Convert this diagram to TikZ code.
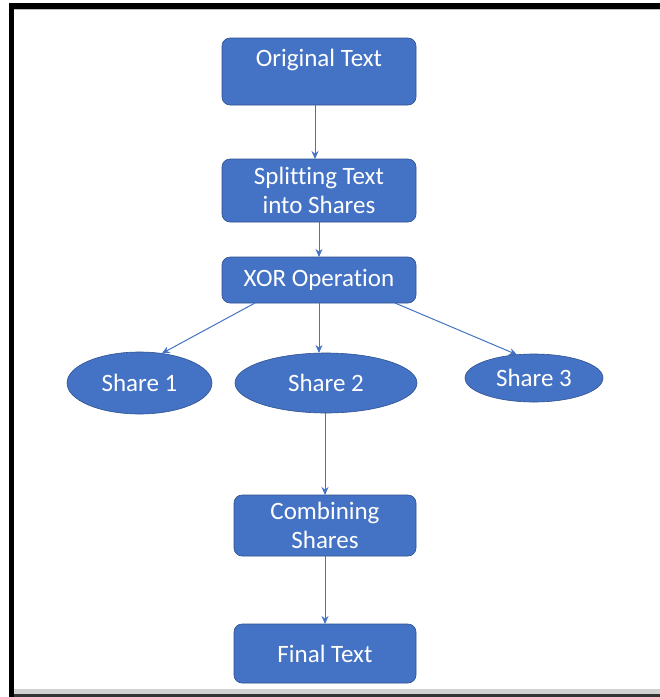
\documentclass[tikz,border=0pt]{standalone}
\usepackage{fontspec}
\setmainfont[Ligatures=CommonOff]{Carlito}
\usetikzlibrary{positioning,shapes.geometric,arrows.meta}
\definecolor{boxblue}{HTML}{4472C4}
\definecolor{boxedge}{HTML}{2F528F}

\begin{document}
\begin{tikzpicture}[x=1pt, y=-1pt,
						step box/.style={rectangle, rounded corners=8pt, fill=boxblue, draw=boxedge, line width=0.6pt, text=white, inner sep=0pt, outer sep=0pt, align=center, font=\fontsize{25}{28.5}\selectfont},
						share/.style={ellipse, fill=boxblue, draw=boxedge, line width=0.6pt, text=white, inner sep=0pt, outer sep=0pt, font=\fontsize{25}{28.5}\selectfont}
					]
					% frame of the screenshot
					\useasboundingbox (0,0) rectangle (660,697);
					\fill[black] (9,3) rectangle (660,697);
					\fill[white] (14,9) rectangle (660,689);
					\fill[black!25] (14,9) rectangle (660,10.2);
					\fill[black!18] (14,689) rectangle (660,694);
					\fill[black!80] (14,694) rectangle (660,697);
					\node[step box, minimum width=194pt, text height=28pt, text depth=39pt] (orig) at (319,71.5) {Original Text};
					\node[step box, minimum width=194pt, minimum height=63pt] (split) [below=54pt of orig] {Splitting Text\\into Shares};
					\node[step box, minimum width=194pt, minimum height=46pt] (xor) [below=35pt of split] {XOR Operation};
					\node[share, minimum width=182pt, minimum height=60pt] (share2) [below=50pt of xor, xshift=7pt] {Share 2};
					\node[share, minimum width=145pt, minimum height=62pt] (share1) [left=23pt of share2] {Share 1};
					\node[share, minimum width=138pt, minimum height=48pt] (share3) [right=48pt of share2, yshift=5pt] {Share 3};
					\node[step box, minimum width=182pt, minimum height=61pt] (comb) [below=82pt of share2, xshift=-1pt] {Combining\\Shares};
					\node[step box, minimum width=182pt, minimum height=59pt] (final) [below=68pt of comb] {Final Text};
					\begin{scope}[boxblue, line width=1pt, -{Stealth[length=8pt, width=7pt]}]
					\draw ([xshift=-4pt]orig.south) -- ([xshift=-4pt]split.north);
					\draw (split.south) -- (xor.north);
					\draw ([xshift=-64pt]xor.south) -- (share1.53);
					\draw (xor.south) -- (xor.south |- share2.north);
					\draw ([xshift=76pt]xor.south) -- (share3.126);
					\draw (comb.north |- share2.south) -- (comb.north);
					\draw (comb.south) -- (final.north);
					\end{scope}
					\end{tikzpicture}
\end{document}
